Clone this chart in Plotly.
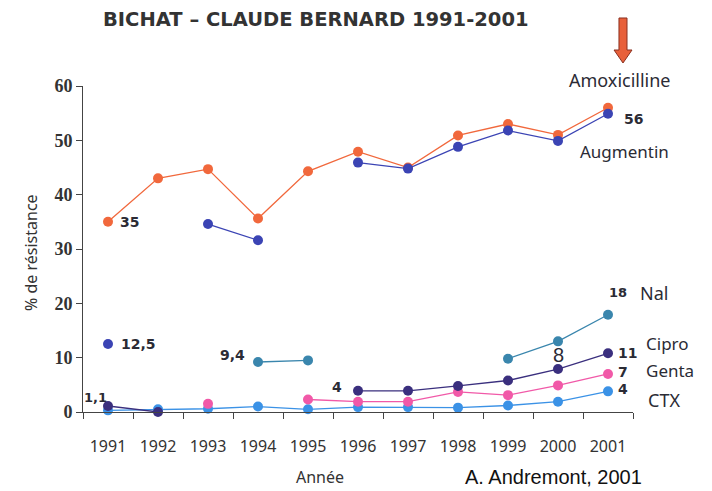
import plotly.graph_objects as go

years = ["1991", "1992", "1993", "1994", "1995", "1996", "1997", "1998", "1999", "2000", "2001"]

amoxicilline = [35, 43, 44.7, 35.6, 44.3, 47.9, 45, 50.9, 53, 51, 56]
augmentin    = [None, None, 34.6, 31.6, None, 45.9, 44.8, 48.8, 51.8, 49.9, 54.9]
nal_1991     = [12.5, None, None, None, None, None, None, None, None, None, None]
nal          = [None, None, None, 9.2, 9.5, None, None, None, 9.8, 13, 17.9]
cipro        = [1.1, 0, None, None, None, 3.9, 3.9, 4.8, 5.8, 7.9, 10.8]
genta        = [None, None, 1.5, None, 2.3, 1.9, 1.9, 3.7, 3.1, 4.9, 7]
ctx          = [0.3, 0.5, 0.6, 1.0, 0.5, 0.9, 0.9, 0.8, 1.2, 1.9, 3.8]

series = [
    ("Amoxicilline", amoxicilline, "#f1683c"),
    ("Augmentin",    augmentin,    "#3b44b4"),
    ("Nal 1991",     nal_1991,     "#3b44b4"),
    ("Nal",          nal,          "#3a86ad"),
    ("CTX",          ctx,          "#3b92e6"),
    ("Genta",        genta,        "#f159a8"),
    ("Cipro",        cipro,        "#3a2f7e"),
]

comic = "Comic Sans MS, Noto Sans, sans-serif"
num = "DejaVu Sans"
ink = "#2b2b35"

fig = go.Figure()
for name, vals, color in series:
    fig.add_trace(go.Scatter(
        x=years, y=vals, name=name, mode="lines+markers",
        line=dict(color=color, width=1.3),
        marker=dict(color=color, size=10),
        connectgaps=False, cliponaxis=False, showlegend=False,
    ))

# labels: (text, year, y value, xshift, yshift, size, bold, font)
labels = [
    ("35", "1991", 35, 21, 0, 14, True, num),
    ("12,5", "1991", 12.5, 30, 0, 14, True, num),
    ("9,4", "1994", 9.2, -26, 7, 14, True, num),
    ("1,1", "1991", 1.1, -13, 9, 13, True, num),
    ("4", "1996", 3.9, -21, 4, 14, True, num),
    ("8", "2000", 7.9, 0, 14, 20, False, "Liberation Sans"),
    ("56", "2001", 56, 25, -11, 14, True, num),
    ("Amoxicilline", "2001", 56, 12, 28, 18, False, comic),
    ("Augmentin", "2001", 56, 16, -44, 17, False, comic),
    ("18", "2001", 17.9, 10, 22, 13, True, num),
    ("Nal", "2001", 17.9, 46, 22, 18, False, comic),
    ("11", "2001", 10.8, 19, 0, 14, True, num),
    ("Cipro", "2001", 10.8, 59, 10, 17, False, comic),
    ("7", "2001", 7, 15, 2, 14, True, num),
    ("Genta", "2001", 7, 62, 3, 17, False, comic),
    ("4", "2001", 3.8, 15, 2, 14, True, num),
    ("CTX", "2001", 3.8, 56, -9, 18, False, comic),
]
for text, yr, yv, dx, dy, size, bold, fam in labels:
    fig.add_annotation(
        x=years.index(yr), y=yv, text=text, showarrow=False, xshift=dx, yshift=dy,
        font=dict(size=size, color=ink, family=fam, weight="bold" if bold else "normal"),
    )

# red arrow above Amoxicilline
arrow = ("M 0.9745,1.2086 L 0.9891,1.2086 L 0.9891,1.1104 L 0.9982,1.1104 "
         "L 0.9818,1.0706 L 0.9655,1.1104 L 0.9745,1.1104 Z")
fig.add_shape(type="path", path=arrow, xref="paper", yref="paper",
              fillcolor="#e8603a", line=dict(color="#8a3020", width=1))

fig.add_annotation(
    text="BICHAT – CLAUDE BERNARD 1991-2001", xref="paper", yref="paper",
    x=0.424, y=1.203, showarrow=False, yanchor="middle",
    font=dict(size=19.5, color="#333", family="DejaVu Sans", weight="bold"),
)
fig.add_annotation(
    text="% de résistance", xref="paper", yref="paper", textangle=-90,
    x=-0.118, y=0.488, showarrow=False,
    font=dict(size=16, color="#333", family=comic),
)
fig.add_annotation(
    text="Année", xref="paper", yref="paper",
    x=0.431, y=-0.2, showarrow=False, yanchor="middle",
    font=dict(size=16, color="#333", family=comic),
)
fig.add_annotation(
    text="A. Andremont, 2001", xref="paper", yref="paper",
    x=0.69, y=-0.158, showarrow=False, xanchor="left", yanchor="top",
    font=dict(size=20, color="#111", family="Liberation Sans"),
)

fig.update_xaxes(
    type="category", range=[-0.5, 10.5], tickson="boundaries",
    ticks="outside", ticklen=6, tickcolor="#444", showline=True,
    linecolor="#444", linewidth=1, showgrid=False, zeroline=False,
    ticklabelstandoff=20,
    tickfont=dict(size=16, color="#333", family=comic),
)
fig.update_yaxes(
    range=[0, 60], tickvals=[0, 10, 20, 30, 40, 50, 60],
    ticks="outside", ticklen=6, tickcolor="#444", showline=True,
    linecolor="#444", linewidth=1, showgrid=False, zeroline=False,
    tickfont=dict(size=18, color="#333", family="Liberation Serif", weight="bold"),
)
# the page body adds an 8px offset, so the margins are trimmed on top/left
fig.update_layout(
    width=712, height=491,
    margin=dict(l=75, r=87, t=78, b=87),
    plot_bgcolor="white", paper_bgcolor="white",
)

fig.write_html("out.html")
